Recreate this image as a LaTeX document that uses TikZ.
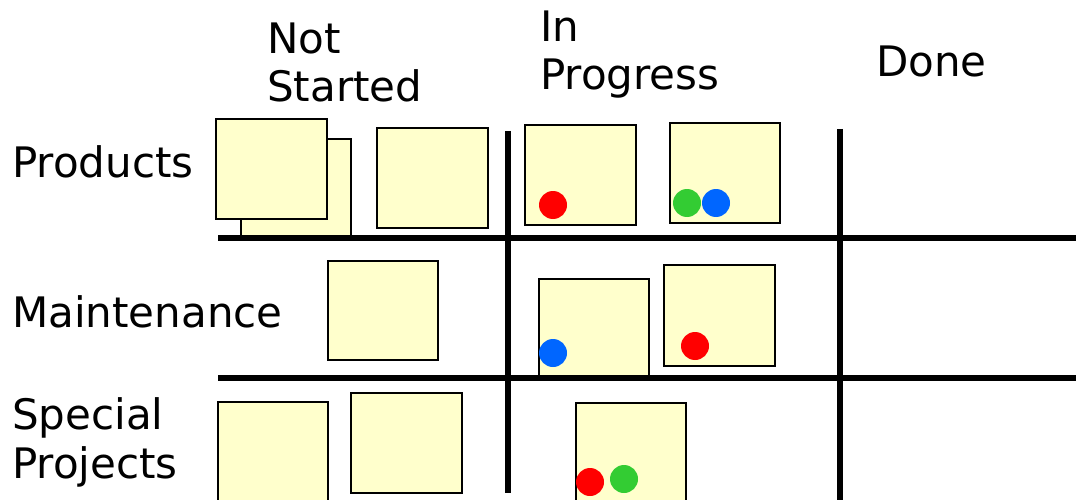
\documentclass[tikz,border=0pt]{standalone}
\usepackage{fontspec}
\setmainfont{DejaVu Sans}
\definecolor{notefill}{HTML}{FFFFCC}
\definecolor{dotred}{HTML}{FF0000}
\definecolor{dotgreen}{HTML}{33CC33}
\definecolor{dotblue}{HTML}{0066FF}
\tikzset{
  note/.style={draw=black, fill=notefill, line width=1.5pt, inner sep=0pt},
  dot/.style={circle, inner sep=0pt, minimum size=28pt, draw=none},
  grid/.style={line width=5.5pt, black},
  heading/.style={anchor=base west, inner sep=0pt, font=\fontsize{42}{48.5}\selectfont, align=left},
}
\begin{document}
\begin{tikzpicture}[x=1pt, y=-1pt]
\useasboundingbox (0,0) rectangle (1076,500);

% row and column headings (two-line labels are placed by their last baseline)
\node[heading] (hprod) at (12,177) {Products};
\node[heading] (hmaint) at (12,327) {Maintenance};
\node[heading] (hspec) at (12,478) {Special\\Projects};
\node[heading] (hnot) at (267,102) {Not\\Started};
\node[heading] (hprog) at (540,90) {In\\Progress};
\node[heading] (hdone) at (876,77) {Done};

% sticky notes: Products row
\node[note, minimum width=110pt, minimum height=98pt] (p1b) at (296,188) {};
\node[note, minimum width=111pt, minimum height=100pt] (p1a) at (271.5,169) {};
\node[note, minimum width=111pt, minimum height=100pt] (p2) at (432.5,178) {};
\node[note, minimum width=111pt, minimum height=100pt] (p3) at (580.5,175) {};
\node[note, minimum width=110pt, minimum height=100pt] (p4) at (725,173) {};

% sticky notes: Maintenance row
\node[note, minimum width=110pt, minimum height=99pt] (m1) at (383,310.5) {};
\node[note, minimum width=110pt, minimum height=98pt] (m2) at (594,328) {};
\node[note, minimum width=111pt, minimum height=101pt] (m3) at (719.5,315.5) {};

% sticky notes: Special Projects row
\node[note, minimum width=110pt, minimum height=108pt] (s1) at (273,456) {};
\node[note, minimum width=111pt, minimum height=100pt] (s2) at (406.5,443) {};
\node[note, minimum width=110pt, minimum height=107pt] (s3) at (631,456.5) {};

% coloured markers
\node[dot, fill=dotred] (d1) at (553,205) {};
\node[dot, fill=dotgreen] (d2) at (687,203) {};
\node[dot, fill=dotblue] (d3) at (716,203) {};
\node[dot, fill=dotblue] (d4) at (553,353) {};
\node[dot, fill=dotred] (d5) at (695,346) {};
\node[dot, fill=dotred] (d6) at (590,482) {};
\node[dot, fill=dotgreen] (d7) at (624,479) {};

% board grid
\coordinate (r1a) at (218,238);
\coordinate (r1b) at (1076,238);
\coordinate (r2a) at (218,378);
\coordinate (r2b) at (1076,378);
\coordinate (c1a) at (508,131);
\coordinate (c1b) at (508,493);
\coordinate (c2a) at (840,129);
\coordinate (c2b) at (840,500);
\draw[grid] (r1a) -- (r1b);
\draw[grid] (r2a) -- (r2b);
\draw[grid] (c1a) -- (c1b);
\draw[grid] (c2a) -- (c2b);
\end{tikzpicture}
\end{document}
